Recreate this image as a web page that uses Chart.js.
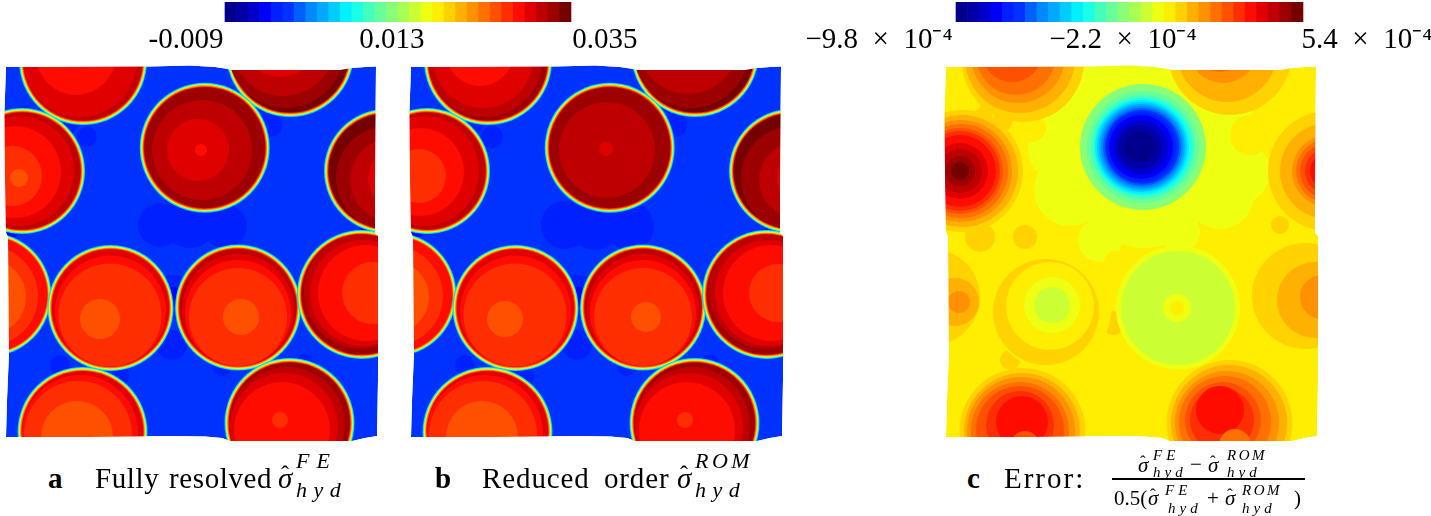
<!DOCTYPE html>
<html>
<head>
<meta charset="utf-8">
<title>Hydrostatic stress fields</title>
<script src="https://cdn.jsdelivr.net/npm/chart.js@4"></script>
<style>
  html, body { margin: 0; padding: 0; background: #fff; }
  body { width: 1431px; height: 516px; position: relative; overflow: hidden; font-family: "Liberation Serif", serif; color: #000; }
  canvas { position: absolute; display: block; }
  .field { filter: blur(0.45px); }
  .cap { position: absolute; top: 461px; font-size: 29px; line-height: 34px; white-space: nowrap; word-spacing: 2px; letter-spacing: 0.6px; }
  .sym { position: absolute; top: 461px; font-size: 29px; line-height: 34px; font-style: italic; }
  .hat { position: absolute; font-size: 24px; line-height: 24px; }
  .scr { position: absolute; font-size: 22px; line-height: 20px; font-style: italic; letter-spacing: 6.5px; white-space: nowrap; }
  .scr.cap3 { letter-spacing: 7px; }
  .frac .sym { font-size: 21px; line-height: 22px; }
  .frac .hat { font-size: 17px; line-height: 17px; }
  .frac .scr { font-size: 15px; line-height: 14px; letter-spacing: 4px; }
  .frac .up { position: absolute; font-size: 21px; line-height: 22px; }
  .bar { position: absolute; left: 1112px; top: 478px; width: 193px; height: 1.5px; background: #000; }
</style>
</head>
<body>
<canvas id="barA" width="520" height="56" style="left:140px;top:0"></canvas>
<canvas id="barC" width="631" height="56" style="left:800px;top:0"></canvas>
<canvas id="fieldA" class="field" width="385" height="390" style="left:0;top:60px"></canvas>
<canvas id="fieldB" class="field" width="385" height="390" style="left:405px;top:60px"></canvas>
<canvas id="fieldC" class="field" width="385" height="390" style="left:940px;top:60px"></canvas>

<div class="cap" style="left:48px"><b>a</b></div>
<div class="cap" style="left:95px">Fully resolved</div>
<div class="sym" style="left:278px">σ</div>
<div class="hat" style="left:281px;top:462px">ˆ</div>
<div class="scr cap3" style="left:296px;top:451px">FE</div>
<div class="scr" style="left:296px;top:480px">hyd</div>

<div class="cap" style="left:435px"><b>b</b></div>
<div class="cap" style="left:482px;word-spacing:6px;letter-spacing:0.9px">Reduced order</div>
<div class="sym" style="left:677px">σ</div>
<div class="hat" style="left:680px;top:462px">ˆ</div>
<div class="scr cap3" style="left:695px;top:451px;letter-spacing:3.5px">ROM</div>
<div class="scr" style="left:695px;top:480px">hyd</div>

<div class="cap" style="left:967px"><b>c</b></div>
<div class="cap" style="left:1004px;letter-spacing:2px">Error:</div>
<div class="frac">
  <div class="sym" style="left:1138px;top:454px">σ</div>
  <div class="hat" style="left:1140px;top:453px">ˆ</div>
  <div class="scr" style="left:1153px;top:448px">FE</div>
  <div class="scr" style="left:1153px;top:465px">hyd</div>
  <div class="up" style="left:1190px;top:453px">−</div>
  <div class="sym" style="left:1208px;top:454px">σ</div>
  <div class="hat" style="left:1210px;top:453px">ˆ</div>
  <div class="scr" style="left:1227px;top:448px;letter-spacing:2.5px">ROM</div>
  <div class="scr" style="left:1227px;top:465px">hyd</div>
  <div class="bar"></div>
  <div class="up" style="left:1114px;top:487px">0.5(</div>
  <div class="sym" style="left:1148px;top:487px">σ</div>
  <div class="hat" style="left:1150px;top:486px">ˆ</div>
  <div class="scr" style="left:1165px;top:483px">FE</div>
  <div class="scr" style="left:1168px;top:501px">hyd</div>
  <div class="up" style="left:1207px;top:487px">+</div>
  <div class="sym" style="left:1225px;top:487px">σ</div>
  <div class="hat" style="left:1227px;top:486px">ˆ</div>
  <div class="scr" style="left:1242px;top:483px;letter-spacing:2.5px">ROM</div>
  <div class="scr" style="left:1242px;top:501px">hyd</div>
  <div class="up" style="left:1294px;top:487px">)</div>
</div>

<script>
/* ─── Colour levels ─── */
const jetLevels = [
  "#00008b", "#0000a6", "#0000cc", "#0000f8", "#0020ff", "#0032ff", "#0060ff", "#0088ff", "#00a8ff", "#00ccff",
  "#00f0ff", "#1affe6", "#44ffbb", "#66ff99", "#88ff77", "#aaff55", "#ccff33", "#eeff11", "#ffee00", "#ffd200",
  "#ffb000", "#ff9000", "#ff7000", "#ff5000", "#ff2e00", "#ff0c00", "#e00000", "#be0000", "#9c0000", "#750000"
];

/* ─── Colour bar ticks: label text and where it sits, in band units ─── */
const stressTickLabels = ["-0.009", "0.013", "0.035"];
const stressTickSlots  = [-3.38, 14.48, 32.95];
const errorTickLabels  = ["−9.8  ×  10⁻⁴", "−2.2  ×  10⁻⁴", "5.4  ×  10⁻⁴"];
const errorTickSlots   = [-6.66, 14.44, 35.53];

/* ─── Panel outline, image px [x, y] ─── */
const panelOutline = [
  [6,67],[60,67],[150,66.5],[190,65.5],[215,67],[225,68.5],[232,70],[340,70],[352,68],[365,67],[376,66.5],
  [375.5,120],[375,180],[375,233],[378,236],[378,300],[378,380],[377,436],
  [365,438],[352,441],[230,441],[222,438],[205,436.5],[170,436],[90,437],[6,437],
  [7,400],[9,353],[8.5,290],[8,237],[6,232],[5,180],[4.5,110]
];

/* ─── Inclusions [x, y, radius] ─── */
const inclusions = [
  [83,61,62],[290,53,62],[204.7,147.7,63],[22,171,61],[386,171,60],
  [-10.7,294.5,60],[110.5,308,61],[238,307.5,61],[361.5,294.5,62.5],[82.5,432,63],[289.5,423,63]
];

/* rim of each inclusion: offset from radius and level */
const rimOffsets = [2, 1.2, 0.4, -0.4, -1.2, -2];
const rimLevels  = [9, 12, 17, 20, 23, 25];

/* ─── Matrix patches [x, y, radius, level] ─── */
const matrixA = [
  [160,225,22,4],[190,222,26,4],[225,226,22,4],[87,137,10,4],[62,118,18,4],[268,100,14,4],[270,125,12,4],
  [173,297,22,4],[173,297,10,3],[172,345,15,4],[115,376,14,4],[222,366,10,4],[12,232,6,3],[368,232,8,3],[60,365,10,4],[305,362,8,4]
];
const matrixB = [
  [160,225,24,4],[190,222,28,4],[225,226,24,4],[87,137,11,4],[62,118,18,4],[268,100,14,4],[270,125,12,4],[175,140,12,4],
  [173,297,22,4],[173,297,10,3],[172,345,15,4],[115,376,14,4],[222,366,10,4],[12,232,6,3],[368,232,8,3],[60,365,10,4],[305,362,8,4]
];
const matrixC = [
  [160,110,62,17],[250,110,62,17],[205,180,68,17],[130,190,36,17],[280,195,34,17],[160,240,22,17],
  [118,150,30,17],[298,172,32,17],[205,90,40,17],[240,232,20,17],
  [310,135,20,18],[92,128,14,18],[40,110,14,19],[62,122,10,19],[30,100,12,18],
  [345,222,16,18],[40,237,15,19],[173,323,12,19],[85,237,12,19],[175,262,11,18],[195,365,15,18],[190,385,12,18],
  [70,360,10,19],[340,225,9,19]
];

/* ─── Contour bands inside the inclusions [x, y, radius, level] ─── */
const bandsA = [
  [83,61,59.5,27],[80,60,57,26],[76,55,40,25],
  [290,53,59.5,29],[286,50,58,28],[283,44,52,27],[280,35,42,26],
  [204.7,147.7,60.5,28],[202,150,50,27],[198,150,31,26],[201,150,6,25],
  [22,171,58.5,27],[19,171,55,26],[15,172,46,25],[12,176,30,24],[19,178,9,23],
  [386,171,57.5,29],[388,178,52,28],[392,180,42,27],[398,178,30,26],
  [-10.7,294.5,57.5,25],[-12,296,50,24],[-12,297,38,23],
  [110.5,308,58.5,26],[110.5,311,55.5,25],[110,315,51.5,24],[100,319,20,23],
  [238,307.5,58.5,27],[238,310,56,26],[238,313,53,25],[238,317,49,24],[241,317,18,23],
  [361.5,294.5,60,28],[361,291.5,57,27],[363,293,53,26],[366,293,48,25],[373,293,31,24],
  [82.5,432,60.5,26],[80,433,58,25],[78,435,54,24],[77,437,36,23],
  [289.5,423,60.5,28],[287,425,58,27],[284,427,54,26],[282,430,48,25],[280,420,8,24]
];
const bandsB = [
  [83,61,59.5,28],[80,60,57,27],[78,58,50,26],[75,52,34,25],
  [290,53,59.5,29],[286,50,58,28],[283,44,50,27],[280,30,32,26],
  [204.7,147.7,60.5,28],[202,150,48,27],[201,149,7,26],
  [22,171,58.5,27],[19,171,55,26],[15,172,44,25],[14,176,27,24],
  [386,171,57.5,29],[388,178,52,28],[392,180,38,27],[398,178,26,26],
  [-10.7,294.5,57.5,25],[-12,296,50,24],[-12,297,36,23],
  [110.5,308,58.5,26],[110.5,311,55.5,25],[110,315,51.5,24],[100,319,18,23],
  [238,307.5,58.5,27],[238,310,56,26],[238,313,53,25],[238,317,49,24],[241,317,15,23],
  [361.5,294.5,60,28],[361,291.5,57,27],[363,293,53,26],[366,293,48,25],[373,293,29,24],
  [82.5,432,60.5,26],[80,433,58,25],[78,435,54,24],[77,437,36,23],
  [289.5,423,60.5,28],[287,425,58,27],[284,427,54,26],[282,430,48,25],[280,420,8,24]
];
const bandsC = [
  [83,61,61,19],[80,58,55,20],[78,56,47,21],[76,55,40,22],[72,52,30,23],
  [290,53,62,19],[287,52,50,20],[283,48,35,21],[280,44,28,22],
  [203,147,63,14],[203,147,56,13],[203,147,52,12],[203,147,49,11],[202,147,47,10],[202,147,45,9],[202,147,43,8],
  [202,147,41,7],[202,147,39,6],[202,147,37,5],[201,147,35,4],[201,147,32,3],[201,147,27,2],[200,147,22,1],[200,147,15,0],
  [22,171,61,19],[22,171,56,20],[21,171,51,21],[21,171,47,22],[20,171,43,23],[20,171,40,24],[20,171,36,25],
  [20,171,28,26],[20,171,22,27],[20,171,15,28],[20,171,9,29],
  [388,171,60,19],[388,171,48,20],[388,171,36,21],[388,171,32,22],[388,171,28,23],[388,171,23,24],[388,171,18,25],
  [-10,295,60,18],[-8,297,48,19],[-4,298,40,19],[15,302,24,20],[19,302,11,21],
  [110.5,308,61,18],[106,312,53,19],[104,312,47,19],[110,306,44,18],[112,305,28,17],[112,305,18,16],
  [238,307.5,62,17],[238,308,57,16],[237,308,14,17],[237,308,7,18],
  [361.5,294.5,62,18],[365,296,53,19],[375,300,38,20],[382,297,22,21],
  [82.5,431,63,19],[82,431,58,20],[81,431,54,21],[80,431,49,22],[80,430,44,23],[80,425,34,24],[82,422,26,25],[85,445,14,23],
  [289.5,423,63,19],[289,423,58,20],[287,423,52,21],[285,422,46,22],[283,420,38,23],[282,420,32,24],[280,410,24,25],[295,445,16,22]
];

/* ─── Outline plugin: base colour inside, white outside ─── */
const panelEdgePlugin = {
  id: "panelEdge",
  beforeDatasetsDraw(chart, args, opts) {
    const ctx = chart.ctx;
    ctx.save();
    ctx.beginPath();
    traceOutline(chart, ctx);
    ctx.fillStyle = opts.baseColor;
    ctx.fill();
    ctx.restore();
  },
  afterDatasetsDraw(chart) {
    const ctx = chart.ctx;
    ctx.save();
    ctx.beginPath();
    ctx.rect(0, 0, chart.width, chart.height);
    traceOutline(chart, ctx);
    ctx.fillStyle = "#fff";
    ctx.fill("evenodd");
    ctx.restore();
  }
};

function traceOutline(chart, ctx) {
  panelOutline.forEach((p, i) => {
    const px = chart.scales.x.getPixelForValue(p[0]);
    const py = chart.scales.y.getPixelForValue(p[1]);
    if (i === 0) ctx.moveTo(px, py); else ctx.lineTo(px, py);
  });
  ctx.closePath();
}

function toBubbles(rows) {
  return rows.map(b => ({ x: b[0], y: b[1], r: b[2], level: b[3] }));
}

function rimRows() {
  const rows = [];
  inclusions.forEach(c => {
    rimOffsets.forEach((off, i) => rows.push([c[0], c[1], c[2] + off, rimLevels[i]]));
  });
  return rows;
}

/* ─── Field panel ─── */
function initField(id, rows, baseLevel) {
  new Chart(document.getElementById(id), {
    type: "bubble",
    data: {
      datasets: [{
        data: toBubbles(rows),
        backgroundColor: c => jetLevels[c.raw ? c.raw.level : 0],
        borderWidth: 0,
        hoverBorderWidth: 0,
      }],
    },
    options: {
      responsive: false, animation: false, events: [],
      layout: { padding: 0, autoPadding: false },
      plugins: { legend: { display: false }, tooltip: { enabled: false }, panelEdge: { baseColor: jetLevels[baseLevel] } },
      scales: {
        x: { type: "linear", min: 0, max: 385, display: false },
        y: { type: "linear", min: 60, max: 450, reverse: true, display: false },
      },
    },
    plugins: [panelEdgePlugin],
  });
}

/* ─── Colour bar ─── */
function initColorBar(id, xMin, xMax, slots, labels) {
  new Chart(document.getElementById(id), {
    type: "bar",
    data: {
      datasets: [{
        data: jetLevels.map((c, i) => ({ x: i + 0.5, y: 1 })),
        backgroundColor: jetLevels,
        borderWidth: 0,
        barPercentage: 1, categoryPercentage: 1,
      }],
    },
    options: {
      responsive: false, animation: false, events: [],
      layout: { padding: { top: 2 }, autoPadding: false },
      plugins: { legend: { display: false }, tooltip: { enabled: false } },
      scales: {
        x: {
          type: "linear", min: xMin, max: xMax, offset: false,
          grid: { display: false }, border: { display: false },
          afterBuildTicks: s => { s.ticks = slots.map(v => ({ value: v })); },
          afterFit: s => { s.height = 34; s.paddingLeft = 0; s.paddingRight = 0; },
          ticks: {
            autoSkip: false, maxRotation: 0, padding: -7, color: "#000",
            font: { family: "Liberation Serif", size: 29 },
            callback: (v, i) => labels[i],
          },
        },
        y: { min: 0, max: 1, display: false },
      },
    },
  });
}

/* ─── Boot ─── */
initColorBar("barA", -7.37, 37.72, stressTickSlots, stressTickLabels);
initColorBar("barC", -13.49, 41.07, errorTickSlots, errorTickLabels);
initField("fieldA", matrixA.concat(rimRows(), bandsA), 5);
initField("fieldB", matrixB.concat(rimRows(), bandsB), 5);
initField("fieldC", matrixC.concat(bandsC), 18);
</script>
</body>
</html>
